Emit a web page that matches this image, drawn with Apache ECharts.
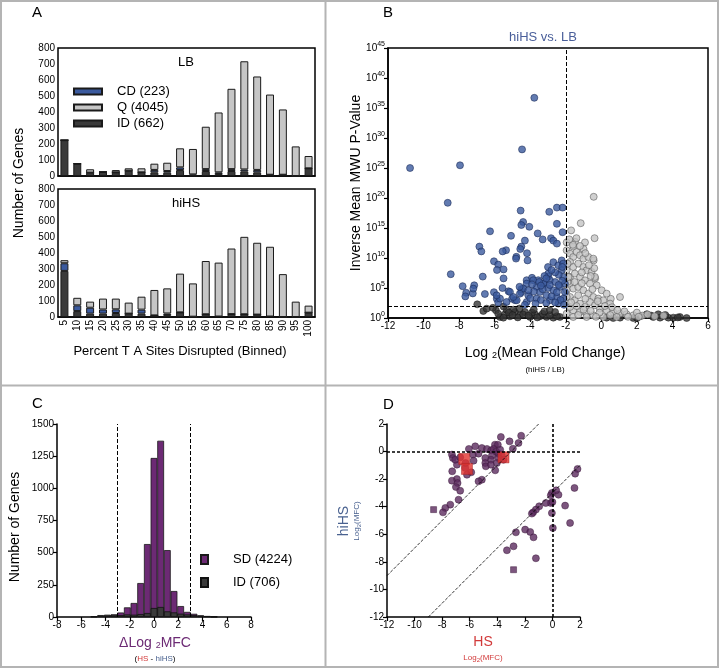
<!DOCTYPE html>
<html><head><meta charset="utf-8">
<script src="https://cdn.jsdelivr.net/npm/echarts/dist/echarts.min.js"></script>
<style>html,body{margin:0;padding:0;background:#fff}#c{width:719px;height:668px}</style>
</head><body><div id="c"></div>
<script>
// ---------- Panel A ----------
const bins = ['5','10','15','20','25','30','35','40','45','50','55','60','65','70','75','80','85','90','95','100'];
const lbID = [224,76,21,25,23,33,23,23,21,37,3,31,12,31,29,23,8,8,0,48];
const lbCD = [0,0,0,0,0,0,0,15,10,17,7,12,11,12,12,15,0,0,0,0];
const lbQ  = [0,4,21,2,14,15,25,39,52,119,159,265,374,502,676,584,501,408,185,77];
const hiID = [288,37,21,21,25,21,21,10,12,29,2,17,3,18,17,15,3,0,0,27];
const hiCD = [48,36,37,26,23,0,25,0,10,0,0,0,0,0,0,0,0,0,0,0];
const hiQ  = [19,47,38,68,67,69,81,159,157,242,208,333,337,410,484,449,436,268,96,44];
const aTicks = [0,100,200,300,400,500,600,700,800];

// ---------- Panel B (x = log2 MFC, y = log10 of inverse p-value) ----------
const bBlue = [[-10.76,25.0],[-7.95,25.45],[-4.46,28.1],[-3.77,36.7],[-8.64,19.2],[-4.54,17.9],[-2.5,18.4],[-2.18,18.4],[-2.93,17.7],[-4.4,16.0],[-4.5,15.5],[-4.05,15.2],[-2.5,15.7],[-6.26,14.45],[-5.08,13.7],[-3.58,14.1],[-3.3,13.1],[-2.83,13.3],[-2.7,12.9],[-2.5,12.4],[-2.18,14.3],[-4.3,12.9],[-4.5,11.9],[-4.56,11.5],[-6.86,11.9],[-6.75,11.1],[-5.36,11.3],[-5.55,11.1],[-6.04,9.45],[-4.18,10.8],[-4.78,10.2],[-4.8,9.9],[-4.15,9.6],[-5.8,8.9],[-5.87,8.0],[-5.5,8.1],[-5.5,6.6],[-6.67,6.9],[-8.47,7.3],[-7.8,5.3],[-7.6,4.2],[-7.65,3.6],[-7.23,4.1],[-7.15,5.45],[-7.2,4.9],[-6.04,4.3],[-6.55,4.0],[-5.56,5.0],[-5.22,4.45],[-5.02,3.2],[-4.85,2.95],[-5.88,3.2],[-5.8,2.6],[-4.5,4.3],[-4.5,4.8],[-4.2,6.3],[-3.9,6.7],[-3.55,6.3],[-3.25,5.8],[-2.99,6.9],
[-2.7,9.3],[-2.42,8.78],[-2.23,7.95],[-2.14,6.84],[-2.98,7.4],[-2.89,6.3],[-3.26,5.73],[-3.64,5.18],[-4.2,5.73],[-3.83,6.3],[-4.39,4.9],[-4.58,4.06],[-4.11,3.78],[-3.45,4.34],[-3.08,3.78],[-2.7,4.62],[-2.33,5.18],[-2.05,5.73],[-2.51,3.5],[-2.14,3.23],[-2.89,2.95],[-3.64,3.23],[-4.2,2.67],[-4.76,2.95],[-5.33,2.67],[-5.7,3.23],[-5.89,3.78],[-5.14,4.34],[-4.95,3.5],[-2.42,2.4],[-2.05,4.34],[-2.23,9.6],[-2.14,9.06],
[-3.0,8.5],[-3.2,7.0],[-3.5,6.0],[-3.0,5.0],[-2.6,6.0],[-2.4,7.2],[-2.2,8.5],[-2.6,7.6],[-3.3,4.8],[-3.8,4.4],[-4.0,3.3],[-3.4,3.0],[-2.8,3.6],[-2.3,3.0],[-2.6,2.6],[-3.1,2.5],[-3.7,2.4],[-4.3,2.2],[-2.1,2.2],[-2.5,4.3],[-2.9,5.5],[-2.2,6.2],[-2.4,5.5],[-3.1,6.6],[-2.8,8.0],[-3.4,5.4],[-3.9,5.6],[-4.6,5.2],[-4.1,4.6]];
const bGray = [[-0.43,20.2],[-1.7,14.6],[-1.16,15.8],[-0.38,13.3],[-0.92,12.6],[-1.48,12.7],[-1.57,11.9],[1.05,3.5],[0.53,3.2],[-0.35,6.6],[-0.43,9.6],
[-1.95,11.28],[-1.76,10.72],[-1.58,10.17],[-1.39,11.0],[-1.2,10.45],[-1.01,9.89],[-0.73,10.17],[-0.45,9.89],[-1.76,9.34],[-1.58,8.5],[-1.3,9.06],[-1.01,8.5],[-0.83,7.95],[-0.55,7.67],[-0.36,6.84],[-1.95,7.95],[-1.76,6.84],[-1.49,7.4],[-1.2,6.84],[-0.92,6.28],[-0.64,5.73],[-0.26,5.45],[0.02,4.62],[0.3,4.06],[-1.76,5.73],[-1.58,4.9],[-1.3,5.17],[-1.01,4.62],[-0.73,4.06],[-0.45,3.5],[-0.17,3.23],[0.11,2.95],[0.49,2.4],[-1.95,4.62],[-1.76,3.5],[-1.49,2.95],[-1.2,2.4],[-0.92,1.84],[-0.64,2.67],[-0.36,2.12],[-0.08,1.56],[0.3,1.28],[0.67,1.0],[1.05,0.73],[1.42,0.62],[1.8,0.45],[-1.58,1.28],[-1.2,1.0],[-0.83,0.73],[-0.45,0.45],[-1.76,1.84],[-1.95,0.73],[-1.58,0.17],[-0.83,0.17],[0.11,0.17],[0.86,0.17],[-1.98,2.4],[-1.95,3.5],[-1.9,6.0],[-1.85,6.84],[-1.9,9.06],
[-1.5,6.0],[-1.1,7.6],[-0.6,7.0],[-1.3,3.8],[-0.9,3.2],[-0.5,4.8],[-0.2,2.8],[0.2,2.0],[0.6,1.8],[0.9,1.3],[1.3,1.1],[2.0,0.9],[2.3,0.4],[2.6,0.6],[3.0,0.3],[-0.1,0.9],[0.5,0.5],[-1.4,2.0],[-1.0,1.4],[-0.6,1.2],[-1.7,2.6],[-1.1,5.8],[-1.6,12.2],[-1.0,11.5],[-0.9,10.8],[-1.2,12.0],[-0.4,8.3],[-0.7,8.8],[-1.95,12.6],[-1.8,13.1],[-1.4,13.3],[1.5,0.2],[2.1,0.2],[3.5,0.4],[-0.3,0.2],[-1.3,0.5]];
const bDark = [[-6.98,2.28],[-6.64,1.17],[-6.45,1.56],[-5.93,1.28],[-5.7,0.17],[-5.42,0.62],[-5.14,0.28],[-4.86,1.0],[-4.58,0.45],[-4.3,1.0],[-4.01,0.17],[-3.73,0.62],[-3.45,0.28],[-3.08,0.17],[-2.7,0.06],[-2.33,0.17],[-5.33,1.39],[-4.95,1.39],[-5.51,0.06],[2.17,0.28],[2.55,0.62],[2.92,0.17],[3.2,0.62],[3.49,0.34],[3.77,0.06],[4.05,0.06],[4.42,0.17],[4.8,0.0],[1.8,0.0],[3.3,0.06],[1.05,0.06],[0.67,0.0],[0.3,0.06],
[-5.2,0.9],[-4.7,0.1],[-4.4,0.6],[-3.9,0.9],[-3.6,0.1],[-3.3,0.7],[-2.9,0.5],[-2.5,0.3],[-5.8,0.7],[-5.0,0.5],[-4.1,0.4],[-3.2,1.1],[-2.9,1.3],[-2.6,1.0],[-3.8,1.4],[-4.6,1.6],[-5.5,1.9],[-6.1,1.7],[2.0,0.0],[2.8,0.4],[3.6,0.5],[4.3,0.1]];
const bCutX = -2, bCutY = 2;

// ---------- Panel C (histogram of delta log2 MFC) ----------
const cCenters = [-4.95,-4.4,-3.85,-3.3,-2.75,-2.2,-1.65,-1.1,-0.55,0,0.55,1.1,1.65,2.2,2.75,3.3,3.85,4.4,4.95];
const cSD = [3,8,12,20,35,75,109,264,567,1236,1370,520,202,85,40,25,12,6,2];
const cID = [5,15,18,18,15,20,18,23,31,70,78,44,36,26,20,15,12,8,3];
const cCut = [-3,3];

// ---------- Panel D (HS vs hiHS log2 MFC) ----------
const dCircles = [[-2.27,1.15],[-2.46,0.62],[-3.11,0.74],[-3.74,1.06],[-2.87,0.21],[-4.17,0.5],[-3.96,0.5],[-5.6,0.38],[-6.06,0.19],[-5.12,0.26],[-4.75,0.19],[-4.44,0.09],[-4.27,0.19],[-4.08,-0.01],[-3.91,-0.15],[-3.79,0.14],[-3.67,-0.3],[-3.91,-0.47],[-3.55,-0.59],[-4.39,-0.3],[-4.46,-0.59],[-4.87,-0.47],[-4.87,-0.83],[-4.83,-1.07],[-4.46,-0.95],[-4.03,-0.83],[-4.15,-1.36],[-5.77,-0.22],[-5.36,-0.15],[-5.72,-0.66],[-5.89,-1.5],[-6.2,-1.68],[-6.32,-1.19],[-6.93,-0.95],[-7.29,-0.22],[-7.22,-0.47],[-7.05,-0.59],[-6.69,-0.42],[-7.27,-1.43],[-6.93,-1.99],[-7.29,-2.11],[-6.88,-2.28],[-7.0,-2.57],[-6.69,-2.84],[-6.81,-3.49],[-7.41,-3.85],[-7.77,-4.09],[-7.94,-4.41],[-5.12,-2.04],[-5.36,-2.16],[-6.3,-0.83],
[1.82,-1.26],[1.65,-1.6],[1.6,-2.64],[0.44,-3.13],[0.27,-2.81],[-0.04,-3.0],[-0.12,-3.17],[-0.12,-3.73],[0.0,-3.66],[-0.48,-3.73],[-0.96,-3.97],[-1.2,-4.21],[-1.4,-4.41],[-1.49,-4.5],[-0.04,-4.46],[0.92,-3.92],[0.03,-5.54],[1.28,-5.18],[-2.65,-5.86],[-1.98,-5.66],[-1.61,-5.83],[-1.37,-6.22],[-3.3,-7.16],[-2.82,-6.87],[-1.2,-7.74]];
const dSquares = [[-8.62,-4.21],[-2.82,-8.57]];
const dRed = [[-6.4,-0.54],[-6.2,-1.26],[-3.55,-0.42]];
const dDiagUpper = [[-12,-9],[-1,2]];
const dDiagLower = [[-9,-12],[2,-1]];

const F = 'Liberation Sans, Arial, sans-serif';
const BLK = '#000';
const axLine = {lineStyle:{color:BLK,width:1.5}};
const axTick = {length:4,lineStyle:{color:BLK,width:1.2}};
const axLab = {color:BLK,fontSize:10,fontFamily:F,margin:3,formatter:v=>String(v)};

function valAxis(gi,min,max,iv,extra){
  return Object.assign({type:'value',gridIndex:gi,min:min,max:max,interval:iv,axisLine:Object.assign({onZero:false},axLine),axisTick:axTick,axisLabel:axLab,splitLine:{show:false}},extra||{});
}
const C_ID='#3a3a3a', C_CD='#3b5a9e', C_Q='#c6c6c6';
function barS(name,data,xi,stack,color){
  return {type:'bar',name:name,xAxisIndex:xi,yAxisIndex:xi,stack:stack,data:data,barWidth:'62%',
    itemStyle:{color:color,borderColor:'#1a1a1a',borderWidth:1}};
}
const dash = {type:'dashed',color:BLK,width:1};

const option = {
  animation:false,
  textStyle:{fontFamily:F},
  grid:[
    {left:58,top:48,width:257,height:128,show:true,borderColor:BLK,borderWidth:1.5},
    {left:58,top:189,width:257,height:128,show:true,borderColor:BLK,borderWidth:1.5},
    {left:388,top:48,width:320,height:270,show:true,borderColor:BLK,borderWidth:1.5},
    {left:57,top:424,width:194,height:193},
    {left:387,top:424,width:193,height:193}
  ],
  xAxis:[
    {type:'category',gridIndex:0,data:bins,axisLine:axLine,axisTick:Object.assign({alignWithLabel:true,interval:0},axTick),axisLabel:{show:false}},
    {type:'category',gridIndex:1,data:bins,axisLine:axLine,axisTick:Object.assign({alignWithLabel:true,interval:0},axTick),axisLabel:{color:BLK,fontSize:10,fontFamily:F,margin:3,rotate:90,interval:0}},
    valAxis(2,-12,6,2),
    valAxis(3,-8,8,2),
    valAxis(4,-12,2,2)
  ],
  yAxis:[
    valAxis(0,aTicks[0],aTicks[aTicks.length-1],100),
    valAxis(1,aTicks[0],aTicks[aTicks.length-1],100),
    valAxis(2,0,45,5,{axisLabel:Object.assign({},axLab,{formatter:v=>'{b|10}{s|'+v+'}',rich:{b:{fontSize:10,color:BLK,fontFamily:F},s:{fontSize:7,color:BLK,fontFamily:F,padding:[0,0,7,0]}}})}),
    valAxis(3,0,1500,250),
    valAxis(4,-12,2,2)
  ],
  legend:[
    {data:['CD (223)','Q (4045)','ID (662)'],orient:'vertical',left:68,top:80,icon:'rect',itemWidth:28,itemHeight:6,itemGap:3,
      textStyle:{fontSize:13,fontFamily:F,color:BLK,padding:[0,0,0,10]}},
    {data:['SD (4224)','ID (706)'],orient:'vertical',left:195,top:548,icon:'rect',itemWidth:7,itemHeight:9,itemGap:10,
      textStyle:{fontSize:13,fontFamily:F,color:BLK,padding:[0,0,0,20]}}
  ],
  series:[
    barS('ID (662)',lbID,0,'lb',C_ID),
    barS('CD (223)',lbCD,0,'lb',C_CD),
    barS('Q (4045)',lbQ,0,'lb',C_Q),
    barS('ID (662)',hiID,1,'hi',C_ID),
    barS('CD (223)',hiCD,1,'hi',C_CD),
    barS('Q (4045)',hiQ,1,'hi',C_Q),
    // B
    {type:'scatter',name:'bDark',xAxisIndex:2,yAxisIndex:2,data:bDark,symbolSize:7,clip:false,itemStyle:{color:'#353535',borderColor:'#111',borderWidth:0.6},
      markLine:{silent:true,symbol:'none',label:{show:false},lineStyle:dash,data:[{xAxis:bCutX},{yAxis:bCutY}]}},
    {type:'scatter',name:'bGray',xAxisIndex:2,yAxisIndex:2,data:bGray,symbolSize:7,clip:false,itemStyle:{color:'#c4c4c4',borderColor:'#555',borderWidth:0.7}},
    {type:'scatter',name:'bBlue',xAxisIndex:2,yAxisIndex:2,data:bBlue,symbolSize:7,clip:false,itemStyle:{color:'#3b5a9e',borderColor:'#1a2a55',borderWidth:0.7}},
    // C
    {type:'bar',name:'SD (4224)',xAxisIndex:3,yAxisIndex:3,data:cCenters.map((c,i)=>[c,cSD[i]]),barWidth:6.8,barGap:'-100%',
      itemStyle:{color:'#6c2a74',borderColor:'#1a1a1a',borderWidth:0.8},
      markLine:{silent:true,symbol:'none',label:{show:false},lineStyle:dash,data:cCut.map(v=>({xAxis:v}))}},
    {type:'bar',name:'ID (706)',xAxisIndex:3,yAxisIndex:3,data:cCenters.map((c,i)=>[c,cID[i]]),barWidth:6.8,barGap:'-100%',
      itemStyle:{color:'#3a3a3a',borderColor:'#111',borderWidth:0.8}},
    // D
    {type:'line',xAxisIndex:4,yAxisIndex:4,data:dDiagUpper,symbol:'none',lineStyle:{type:'dashed',color:BLK,width:0.8},
      markLine:{silent:true,symbol:'none',label:{show:false},lineStyle:{type:[3,2],color:BLK,width:1.6},data:[{xAxis:0},{yAxis:0}]}},
    {type:'line',xAxisIndex:4,yAxisIndex:4,data:dDiagLower,symbol:'none',lineStyle:{type:'dashed',color:BLK,width:0.8}},
    {type:'scatter',xAxisIndex:4,yAxisIndex:4,data:dCircles,symbolSize:7,itemStyle:{color:'#5b2b5e',borderColor:'#3a1a3c',borderWidth:0.6}},
    {type:'scatter',xAxisIndex:4,yAxisIndex:4,data:dSquares,symbol:'rect',symbolSize:6,itemStyle:{color:'#5b2b5e',borderColor:'#3a1a3c',borderWidth:0.6}},
    {type:'scatter',xAxisIndex:4,yAxisIndex:4,data:dRed,symbol:'rect',symbolSize:11,itemStyle:{color:'#e23330',borderColor:'#a52020',borderWidth:0.6}}
  ],
  graphic:[
    {type:'rect',shape:{x:1,y:1,width:717,height:666},style:{fill:'none',stroke:'#b4b4b4',lineWidth:2},silent:true},
    {type:'line',shape:{x1:325.5,y1:0,x2:325.5,y2:668},style:{stroke:'#b4b4b4',lineWidth:2},silent:true},
    {type:'line',shape:{x1:0,y1:385.5,x2:719,y2:385.5},style:{stroke:'#b4b4b4',lineWidth:2},silent:true},
    {type:'text',x:32,y:5,style:{text:'A',font:'15px '+F,fill:BLK}},
    {type:'text',x:383,y:5,style:{text:'B',font:'15px '+F,fill:BLK}},
    {type:'text',x:32,y:396,style:{text:'C',font:'15px '+F,fill:BLK}},
    {type:'text',x:383,y:397,style:{text:'D',font:'15px '+F,fill:BLK}},
    {type:'text',x:186,y:62,style:{text:'LB',font:'13px '+F,fill:BLK,align:'center',verticalAlign:'middle'}},
    {type:'text',x:186,y:203,style:{text:'hiHS',font:'13px '+F,fill:BLK,align:'center',verticalAlign:'middle'}},
    {type:'text',x:19,y:183,rotation:Math.PI/2,style:{text:'Number of Genes',font:'14px '+F,fill:BLK,align:'center',verticalAlign:'middle'}},
    {type:'text',x:180,y:351,style:{text:'Percent T A Sites Disrupted (Binned)',font:'13px '+F,fill:BLK,align:'center',verticalAlign:'middle'}},
    {type:'text',x:543,y:37,style:{text:'hiHS vs. LB',font:'13px '+F,fill:'#4a5f9a',align:'center',verticalAlign:'middle'}},
    {type:'text',x:356,y:183,rotation:Math.PI/2,style:{text:'Inverse Mean MWU P-Value',font:'14px '+F,fill:BLK,align:'center',verticalAlign:'middle'}},
    {type:'text',x:545,y:353,style:{text:'{a|Log }{s|2}{a|(Mean Fold Change)}',align:'center',verticalAlign:'middle',
      rich:{a:{fontSize:14,fontFamily:F,fill:BLK},s:{fontSize:9,fontFamily:F,fill:BLK,padding:[6,0,0,0]}}}},
    {type:'text',x:545,y:370,style:{text:'(hiHS / LB)',font:'8px '+F,fill:BLK,align:'center',verticalAlign:'middle'}},
    {type:'text',x:15,y:527,rotation:Math.PI/2,style:{text:'Number of Genes',font:'14px '+F,fill:BLK,align:'center',verticalAlign:'middle'}},
    {type:'text',x:155,y:643,style:{text:'{a|ΔLog }{s|2}{a|MFC}',align:'center',verticalAlign:'middle',
      rich:{a:{fontSize:14,fontFamily:F,fill:'#6c2a74'},s:{fontSize:9,fontFamily:F,fill:'#6c2a74',padding:[6,0,0,0]}}}},
    {type:'text',x:155,y:659,style:{text:'{k|(}{r|HS}{k| - }{b|hiHS}{k|)}',align:'center',verticalAlign:'middle',
      rich:{k:{fontSize:8,fontFamily:F,fill:BLK},r:{fontSize:8,fontFamily:F,fill:'#d23a3a'},b:{fontSize:8,fontFamily:F,fill:'#4a6290'}}}},
    {type:'text',x:344,y:521,rotation:Math.PI/2,style:{text:'hiHS',font:'14px '+F,fill:'#4a6290',align:'center',verticalAlign:'middle'}},
    {type:'text',x:357,y:521,rotation:Math.PI/2,style:{text:'{a|Log}{s|2}{a|(MFC)}',align:'center',verticalAlign:'middle',
      rich:{a:{fontSize:8,fontFamily:F,fill:'#4a6290'},s:{fontSize:6,fontFamily:F,fill:'#4a6290',padding:[4,0,0,0]}}}},
    {type:'text',x:483,y:642,style:{text:'HS',font:'14px '+F,fill:'#d23a3a',align:'center',verticalAlign:'middle'}},
    {type:'text',x:483,y:658,style:{text:'{a|Log}{s|2}{a|(MFC)}',align:'center',verticalAlign:'middle',
      rich:{a:{fontSize:8,fontFamily:F,fill:'#d23a3a'},s:{fontSize:6,fontFamily:F,fill:'#d23a3a',padding:[4,0,0,0]}}}}
  ]
};
const chart = echarts.init(document.getElementById('c'),null,{renderer:'canvas'});
chart.setOption(option);
</script></body></html>
